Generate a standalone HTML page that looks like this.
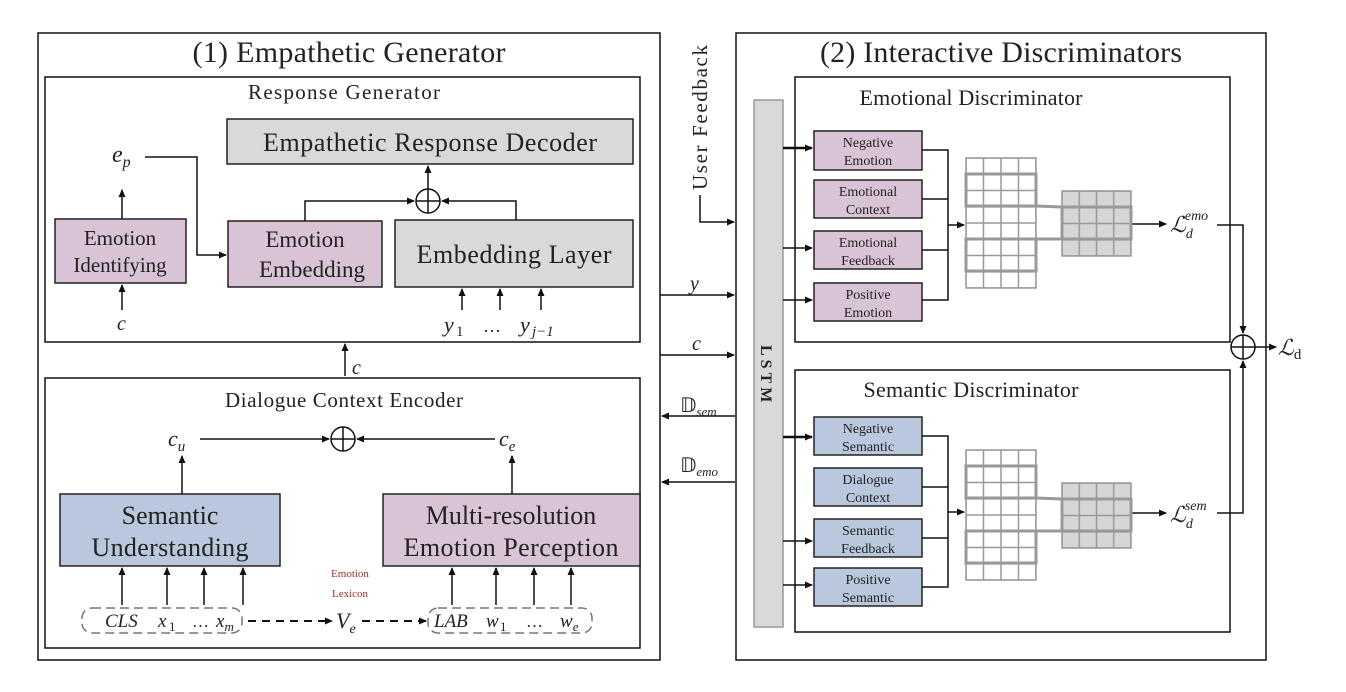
<!DOCTYPE html>
<html><head><meta charset="utf-8"><style>
body{margin:0;background:#fff}
svg{display:block}
text{font-family:"Liberation Serif",serif;fill:#222}
.i{font-style:italic}
</style></head><body>
<svg width="1346" height="692" viewBox="0 0 1346 692" xmlns="http://www.w3.org/2000/svg">
<defs>
<marker id="a" markerWidth="8" markerHeight="8" refX="7" refY="4" orient="auto" markerUnits="userSpaceOnUse"><path d="M0,0.5 L8,4 L0,7.5z" fill="#111"/></marker>
<pattern id="g" x="966" y="158" width="17.5" height="16.25" patternUnits="userSpaceOnUse"><rect width="17.5" height="16.25" fill="#fff" stroke="#999" stroke-width="1.5"/></pattern>
<pattern id="gs" x="966" y="450" width="17.5" height="16.25" patternUnits="userSpaceOnUse"><rect width="17.5" height="16.25" fill="#fff" stroke="#999" stroke-width="1.5"/></pattern>
<pattern id="g2" x="1062" y="191" width="17.25" height="16.25" patternUnits="userSpaceOnUse"><rect width="17.25" height="16.25" fill="#d6d6d6" stroke="#999" stroke-width="1.5"/></pattern>
<pattern id="g2s" x="1062" y="483" width="17.25" height="16.25" patternUnits="userSpaceOnUse"><rect width="17.25" height="16.25" fill="#d6d6d6" stroke="#999" stroke-width="1.5"/></pattern>
</defs>
<g fill="none" stroke="#111" stroke-width="1.5">
<rect x="38" y="33" width="622" height="627"/>
<rect x="45" y="77" width="595" height="265"/>
<rect x="45" y="378" width="595" height="270"/>
<rect x="736" y="33" width="530" height="627"/>
<rect x="795" y="77" width="435" height="265"/>
<rect x="795" y="370" width="435" height="262"/>
</g>
<text x="349" y="62" font-size="30" text-anchor="middle" textLength="313">(1) Empathetic Generator</text>
<text x="1001" y="62" font-size="30" text-anchor="middle" textLength="362">(2) Interactive Discriminators</text>
<text x="344" y="99" font-size="21" text-anchor="middle" textLength="192">Response Generator</text>
<text x="344" y="407" font-size="21" text-anchor="middle" textLength="238">Dialogue Context Encoder</text>
<text x="971" y="105" font-size="22" text-anchor="middle" textLength="223">Emotional Discriminator</text>
<text x="971" y="397" font-size="22" text-anchor="middle" textLength="215">Semantic Discriminator</text>

<g stroke="#222" stroke-width="1.5">
<rect x="227" y="119" width="406" height="45" fill="#d9d9d9"/>
<rect x="55" y="219" width="131" height="64" fill="#d8c4d6"/>
<rect x="228" y="221" width="154" height="66" fill="#d8c4d6"/>
<rect x="395" y="220" width="238" height="67" fill="#d9d9d9"/>
<rect x="60" y="494" width="220" height="72" fill="#b9c8dd"/>
<rect x="383" y="494" width="257" height="72" fill="#d8c4d6"/>
</g>
<text x="430" y="151" font-size="26" text-anchor="middle" textLength="334">Empathetic Response Decoder</text>
<text x="120" y="245" font-size="21" text-anchor="middle">Emotion</text>
<text x="120" y="272" font-size="21" text-anchor="middle">Identifying</text>
<text x="305" y="247" font-size="23" text-anchor="middle">Emotion</text>
<text x="312" y="277" font-size="23" text-anchor="middle">Embedding</text>
<text x="514" y="263" font-size="26" text-anchor="middle" textLength="195">Embedding Layer</text>
<text x="170" y="524" font-size="26" text-anchor="middle">Semantic</text>
<text x="170" y="556" font-size="26" text-anchor="middle" textLength="157">Understanding</text>
<text x="511" y="524" font-size="26" text-anchor="middle">Multi-resolution</text>
<text x="511" y="556" font-size="26" text-anchor="middle" textLength="215">Emotion Perception</text>

<g fill="none" stroke="#111" stroke-width="1.5">
<circle cx="428" cy="201" r="12"/><path d="M416,201h24M428,189v24"/>
<circle cx="343" cy="439" r="12"/><path d="M331,439h24M343,427v24"/>
<circle cx="1243" cy="347" r="12"/><path d="M1231,347h24M1243,335v24"/>
<path d="M428,189V166" marker-end="url(#a)"/>
<path d="M305,221V201H414" marker-end="url(#a)"/>
<path d="M516,220V201H442" marker-end="url(#a)"/>
<path d="M122,219V190" marker-end="url(#a)"/>
<path d="M145,157H197V255H226" marker-end="url(#a)"/>
<path d="M122,310V285" marker-end="url(#a)"/>
<path d="M462,310V289" marker-end="url(#a)"/><path d="M500,310V289" marker-end="url(#a)"/><path d="M541,310V289" marker-end="url(#a)"/>
<path d="M345,376V344" marker-end="url(#a)"/>
<path d="M200,439H329" marker-end="url(#a)"/>
<path d="M495,439H357" marker-end="url(#a)"/>
<path d="M182,494V456" marker-end="url(#a)"/>
<path d="M512,494V456" marker-end="url(#a)"/>
<path d="M122,605V568" marker-end="url(#a)"/><path d="M167,605V568" marker-end="url(#a)"/><path d="M204,605V568" marker-end="url(#a)"/><path d="M243,605V568" marker-end="url(#a)"/>
<path d="M452,605V568" marker-end="url(#a)"/><path d="M496,605V568" marker-end="url(#a)"/><path d="M534,605V568" marker-end="url(#a)"/><path d="M571,605V568" marker-end="url(#a)"/>
<path d="M248,621H332" stroke-dasharray="8,6" marker-end="url(#a)" stroke-width="2"/>
<path d="M362,621H426" stroke-dasharray="8,6" marker-end="url(#a)" stroke-width="2"/>
<rect x="82" y="608" width="160" height="25" rx="10" stroke="#777" stroke-dasharray="9,5"/>
<rect x="428" y="608" width="164" height="25" rx="10" stroke="#777" stroke-dasharray="9,5"/>
<path d="M660,295H734" marker-end="url(#a)"/>
<path d="M660,355H734" marker-end="url(#a)"/>
<path d="M735,416H662" marker-end="url(#a)"/>
<path d="M735,482H662" marker-end="url(#a)"/>
<path d="M700,195V222H734" marker-end="url(#a)"/>
</g>
<text x="112" y="162" font-size="24" class="i">e<tspan font-size="16" dy="5">p</tspan></text>
<text x="117" y="330" font-size="20" class="i">c</text>
<text x="444" y="332" font-size="22" class="i">y</text><text x="456" y="336" font-size="15">1</text>
<text x="483" y="332" font-size="18">…</text>
<text x="520" y="332" font-size="22" class="i">y</text><text x="532" y="336" font-size="15" class="i">j−1</text>
<text x="352" y="374" font-size="20" class="i">c</text>
<text x="168" y="446" font-size="22" class="i">c<tspan font-size="15" dy="5">u</tspan></text>
<text x="499" y="446" font-size="22" class="i">c<tspan font-size="15" dy="5">e</tspan></text>
<text x="350" y="577" font-size="11" text-anchor="middle" style="fill:#a0302a">Emotion</text>
<text x="350" y="597" font-size="11" text-anchor="middle" style="fill:#a0302a">Lexicon</text>
<text x="336" y="628" font-size="22" class="i">V<tspan font-size="14" dy="5">e</tspan></text>
<text x="105" y="627" font-size="19" class="i">CLS</text>
<text x="158" y="627" font-size="19" class="i">x</text><text x="169" y="631" font-size="13">1</text>
<text x="192" y="627" font-size="17">…</text>
<text x="216" y="627" font-size="19" class="i">x<tspan font-size="13" dy="4">m</tspan></text>
<text x="434" y="627" font-size="19" class="i">LAB</text>
<text x="486" y="627" font-size="19" class="i">w</text><text x="500" y="631" font-size="13">1</text>
<text x="526" y="627" font-size="17">…</text>
<text x="560" y="627" font-size="19" class="i">w<tspan font-size="13" dy="4">e</tspan></text>
<text x="690" y="290" font-size="20" class="i">y</text>
<text x="692" y="350" font-size="20" class="i">c</text>
<text x="680" y="412" font-size="20">𝔻<tspan font-size="13" dy="4" font-style="italic">sem</tspan></text>
<text x="680" y="472" font-size="20">𝔻<tspan font-size="13" dy="4" font-style="italic">emo</tspan></text>
<text transform="translate(707,190) rotate(-90)" font-size="21" textLength="145">User Feedback</text>

<rect x="754" y="100" width="29" height="527" fill="#d9d9d9" stroke="#999" stroke-width="1.5"/>
<text transform="translate(761,345) rotate(90)" font-size="16" font-weight="bold" letter-spacing="4">LSTM</text>

<g stroke="#222" stroke-width="1.5" fill="#d8c4d6">
<rect x="814" y="131" width="108" height="39"/><rect x="814" y="180" width="108" height="38"/>
<rect x="814" y="231" width="108" height="38"/><rect x="814" y="283" width="108" height="38"/>
</g>
<g stroke="#222" stroke-width="1.5" fill="#b9c8dd">
<rect x="814" y="417" width="108" height="38"/><rect x="814" y="468" width="108" height="38"/>
<rect x="814" y="519" width="108" height="38"/><rect x="814" y="568" width="108" height="38"/>
</g>
<g font-size="14" text-anchor="middle">
<text x="868" y="147">Negative</text><text x="868" y="165">Emotion</text>
<text x="868" y="196">Emotional</text><text x="868" y="214">Context</text>
<text x="868" y="247">Emotional</text><text x="868" y="265">Feedback</text>
<text x="868" y="299">Positive</text><text x="868" y="317">Emotion</text>
<text x="868" y="433">Negative</text><text x="868" y="451">Semantic</text>
<text x="868" y="484">Dialogue</text><text x="868" y="502">Context</text>
<text x="868" y="535">Semantic</text><text x="868" y="553">Feedback</text>
<text x="868" y="584">Positive</text><text x="868" y="602">Semantic</text>
</g>
<g fill="none" stroke="#111" stroke-width="1.5">
<path d="M783,148H812" marker-end="url(#a)" stroke-width="2.5"/>
<path d="M783,248H812" marker-end="url(#a)"/><path d="M783,300H812" marker-end="url(#a)"/>
<path d="M922,150H948V300H922M922,199H948M922,250H948"/>
<path d="M948,225H964" marker-end="url(#a)"/>
<path d="M783,437H812" marker-end="url(#a)" stroke-width="2.5"/>
<path d="M783,541H812" marker-end="url(#a)"/><path d="M783,585H812" marker-end="url(#a)"/>
<path d="M922,436H948V587H922M922,487H948M922,538H948"/>
<path d="M948,512H964" marker-end="url(#a)"/>
<path d="M1131,224H1166" marker-end="url(#a)"/>
<path d="M1131,513H1166" marker-end="url(#a)"/>
<path d="M1217,225H1243V333" marker-end="url(#a)"/>
<path d="M1217,513H1243V361" marker-end="url(#a)"/>
<path d="M1255,347H1276" marker-end="url(#a)"/>
</g>
<g stroke="#999" stroke-width="3" fill="none">
<rect x="966" y="158" width="70" height="130" fill="url(#g)" stroke-width="1.5"/>
<rect x="966" y="174" width="70" height="32"/><rect x="966" y="239" width="70" height="32"/>
<rect x="1062" y="191" width="69" height="65" fill="url(#g2)" stroke-width="1.5"/>
<rect x="1062" y="207" width="69" height="32"/>
<path d="M1036,206L1062,207M1036,239L1062,239"/>
<rect x="966" y="450" width="70" height="130" fill="url(#gs)" stroke-width="1.5"/>
<rect x="966" y="466" width="70" height="32"/><rect x="966" y="531" width="70" height="32"/>
<rect x="1062" y="483" width="69" height="65" fill="url(#g2s)" stroke-width="1.5"/>
<rect x="1062" y="499" width="69" height="32"/>
<path d="M1036,498L1062,499M1036,531L1062,531"/>
</g>
<text x="1170" y="232" font-size="22" class="i">ℒ<tspan font-size="14" dy="6">d</tspan><tspan font-size="14" dy="-18" dx="-8">emo</tspan></text>
<text x="1170" y="522" font-size="22" class="i">ℒ<tspan font-size="14" dy="6">d</tspan><tspan font-size="14" dy="-18" dx="-8">sem</tspan></text>
<text x="1278" y="355" font-size="22" class="i">ℒ<tspan font-size="15" dy="4" font-style="normal">d</tspan></text>
</svg>
</body></html>
